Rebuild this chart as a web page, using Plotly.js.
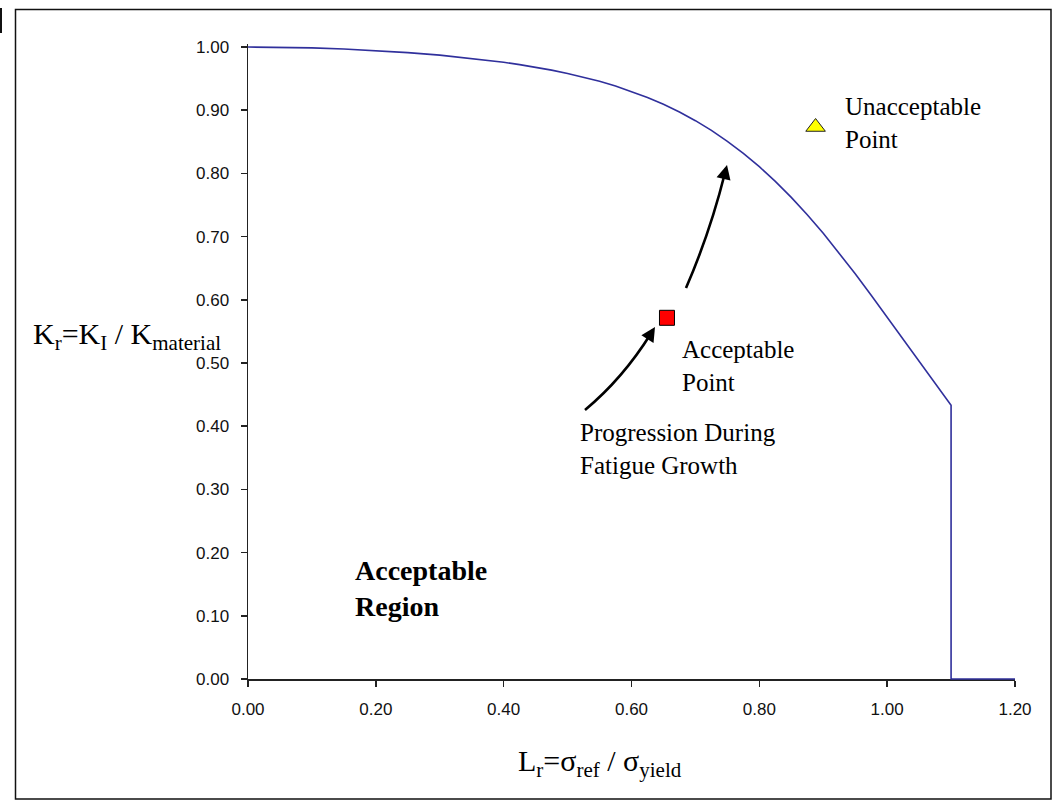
<!DOCTYPE html>
<html>
<head>
<meta charset="utf-8">
<script src="https://cdn.plot.ly/plotly-3.0.1.min.js"></script>
<style>
  html, body { margin: 0; padding: 0; background: #ffffff; }
  #chart { width: 1056px; height: 804px; }
</style>
</head>
<body>
<div id="chart"></div>
<script>
// ---- data ----
const lrValues = [0.00, 0.05, 0.10, 0.15, 0.20, 0.25, 0.30, 0.35, 0.375, 0.40, 0.425, 0.45, 0.475, 0.50,
                  0.525, 0.55, 0.575, 0.60, 0.625, 0.65, 0.675, 0.70, 0.725, 0.75, 0.775, 0.80,
                  0.825, 0.85, 0.875, 0.90, 0.925, 0.95, 0.975, 1.00, 1.025, 1.05, 1.075, 1.10, 1.10, 1.20];
const krValues = [1.000, 0.9997, 0.9986, 0.9968, 0.9944, 0.9911, 0.9871, 0.9820, 0.9791, 0.9758, 0.9721, 0.9680, 0.9634, 0.9582,
                  0.9523, 0.9457, 0.9382, 0.9297, 0.9202, 0.9093, 0.8971, 0.8834, 0.8680, 0.8508, 0.8317, 0.8106,
                  0.7874, 0.7621, 0.7347, 0.7053, 0.6741, 0.6413, 0.6073, 0.5723, 0.5368, 0.5014, 0.4666, 0.433, 0.000, 0.000];
const acceptableX = [0.6555];
const acceptableY = [0.5715];
const unacceptableX = [0.888];
const unacceptableY = [0.8734];
const xTickVals = [0, 0.2, 0.4, 0.6, 0.8, 1.0, 1.2];
const xTickText = ["0.00", "0.20", "0.40", "0.60", "0.80", "1.00", "1.20"];
const yTickVals = [0, 0.1, 0.2, 0.3, 0.4, 0.5, 0.6, 0.7, 0.8, 0.9, 1.0];
const yTickText = ["0.00", "0.10", "0.20", "0.30", "0.40", "0.50", "0.60", "0.70", "0.80", "0.90", "1.00"];

// ---- layout geometry (pixels) ----
const W = 1056, H = 804;
const PL = 248, PR = 1015, PT = 44, PB = 681;   // plot area
const X0 = 248, X1 = 1015, Y0 = 679, Y1 = 47;  // data 0..1.2 / 0..1
function dx(px) { return (px - X0) / (X1 - X0) * 1.2; }
function dy(py) { return (Y0 - py) / (Y0 - Y1); }
function pxX(px) { return (px - PL) / (PR - PL); }
function pxY(py) { return (PB - py) / (PB - PT); }
const yLo = -(PB - Y0) / (Y0 - Y1);
const yHi = 1 + (Y1 - PT) / (Y0 - Y1);

const serif = "Liberation Serif, Times New Roman, serif";
const sans = "Liberation Sans, Arial, sans-serif";

const traces = [
  { x: lrValues, y: krValues, type: "scatter", mode: "lines",
    line: { color: "#30309c", width: 1.6 }, hoverinfo: "skip" },
  { x: acceptableX, y: acceptableY, type: "scatter", mode: "markers", cliponaxis: false,
    marker: { symbol: "square", size: 15, color: "#ff0000", line: { color: "#000000", width: 1 } } },
  { x: unacceptableX, y: unacceptableY, type: "scatter", mode: "markers", cliponaxis: false,
    marker: { symbol: "triangle-up", size: 17, color: "#ffff00", line: { color: "#222222", width: 1 } } }
];

function curvePath(p0, c, p1) {
  return "M" + dx(p0[0]) + "," + dy(p0[1]) + " Q" + dx(c[0]) + "," + dy(c[1]) + " " + dx(p1[0]) + "," + dy(p1[1]);
}

const shapes = [
  // outer frame
  { type: "rect", xref: "paper", yref: "paper", x0: pxX(15.5), x1: pxX(1051), y0: pxY(9.5), y1: pxY(799),
    line: { color: "#111111", width: 1.5 }, fillcolor: "rgba(0,0,0,0)" },
  // stray edge at top-left
  { type: "line", xref: "paper", yref: "paper", x0: pxX(1), x1: pxX(1), y0: pxY(8), y1: pxY(33),
    line: { color: "#111111", width: 2 } },
  // curved arrow shafts
  { type: "path", xref: "x", yref: "y", path: curvePath([585, 410], [622.7, 378.7], [650.8, 333.8]),
    line: { color: "#000000", width: 2.6 } },
  { type: "path", xref: "x", yref: "y", path: curvePath([686, 288], [710, 232.8], [725, 172.8]),
    line: { color: "#000000", width: 2.6 } }
];

function label(text, pxLeft, pxTop, size, bold) {
  return { xref: "paper", yref: "paper", x: pxX(pxLeft), y: pxY(pxTop), xanchor: "left", yanchor: "top",
    text: bold ? "<b>" + text + "</b>" : text, showarrow: false, align: "left",
    font: { family: serif, size: size, color: "#000000" } };
}

const annotations = [
  label("Unacceptable<br>Point", 843, 91, 25, false),
  label("Acceptable<br>Point", 680, 334, 25, false),
  label("Progression During<br>Fatigue Growth", 578, 417, 25, false),
  label("Acceptable<br>Region", 353, 553, 28, true),
  label("K<sub>r</sub>=K<sub>I</sub> / K<sub>material</sub>", 31, 315, 30, false),
  label("L<sub>r</sub>=σ<sub>ref</sub> / σ<sub>yield</sub>", 516, 742, 30, false),
  // arrow heads
  { xref: "x", yref: "y", x: dx(655), y: dy(327), ax: -7.4, ay: 11.9, text: "", showarrow: true,
    arrowhead: 2, arrowsize: 1.1, arrowwidth: 2.6, arrowcolor: "#000000", standoff: 0 },
  { xref: "x", yref: "y", x: dx(727), y: dy(165), ax: -3.4, ay: 13.6, text: "", showarrow: true,
    arrowhead: 2, arrowsize: 1.1, arrowwidth: 2.6, arrowcolor: "#000000", standoff: 0 }
];

const layout = {
  width: W, height: H,
  margin: { l: PL, r: W - PR, t: PT, b: H - PB, pad: 0 },
  paper_bgcolor: "#ffffff", plot_bgcolor: "#ffffff",
  showlegend: false,
  xaxis: { range: [0, 1.2], anchor: "free", position: pxY(Y0), showgrid: false, zeroline: false,
    showline: true, linecolor: "#222222", linewidth: 1.5, layer: "below traces",
    ticks: "outside", ticklen: 6, tickwidth: 1.5, tickcolor: "#222222",
    tickvals: xTickVals, ticktext: xTickText, ticklabelstandoff: 8,
    tickfont: { family: sans, size: 17, color: "#111111" }, fixedrange: true },
  yaxis: { range: [yLo, yHi], showgrid: false, zeroline: false,
    showline: true, linecolor: "#222222", linewidth: 1.5, layer: "below traces",
    ticks: "outside", ticklen: 6, tickwidth: 1.5, tickcolor: "#222222",
    tickvals: yTickVals, ticktext: yTickText, ticklabelstandoff: 8,
    tickfont: { family: sans, size: 17, color: "#111111" }, fixedrange: true },
  shapes: shapes,
  annotations: annotations
};

Plotly.newPlot("chart", traces, layout, { displayModeBar: false, staticPlot: true });
</script>
</body>
</html>
